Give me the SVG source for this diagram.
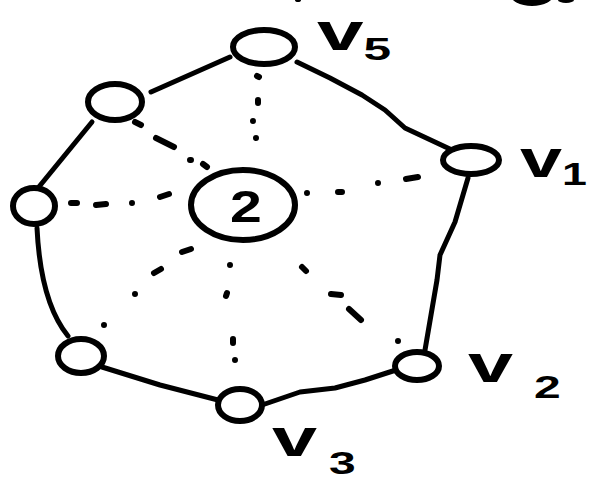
<svg xmlns="http://www.w3.org/2000/svg" width="592" height="481" viewBox="0 0 592 481">
<style>
.node{fill:#fff;stroke:#000;stroke-width:6}
.edge{fill:none;stroke:#000;stroke-width:5;stroke-linecap:round;stroke-linejoin:round}
.dot{fill:none;stroke:#000;stroke-width:6;stroke-linecap:round}
.lbl{font-family:"Liberation Sans",Arial,sans-serif;font-weight:bold;font-size:54px;fill:#000}
.sub{font-size:32px}
.cnum{font-family:"Liberation Sans",Arial,sans-serif;font-weight:bold;font-size:44px;fill:#000}
</style>
<rect width="592" height="481" fill="#fff"/>
<g id="scraps">
<ellipse cx="532" cy="-6" rx="22" ry="12" fill="#000"/>
<ellipse cx="566" cy="0" rx="8" ry="3" fill="#000"/>
<ellipse cx="298" cy="0" rx="3" ry="2" fill="#000"/>
</g>
<g id="connectors">
<path class="edge" d="M297,62 L330,78 L362,95 L385,110 L405,128 L452,150"/>
<path class="edge" d="M468,178 L455,222 L440,255 L437,280 L425,350"/>
<path class="edge" d="M396,370 L365,380 L335,388 L300,392 L262,405"/>
<path class="edge" d="M218,400 L160,385 L102,367"/>
<path class="edge" d="M68,336 C55,320 40,290 37,228"/>
<path class="edge" d="M38,188 L92,122"/>
<path class="edge" d="M151,92 L230,57"/>
<path class="dot" d="M257,76 L259,77 M258,100 L258,103 M253,121 L253,121 M256,138 L256,138"/>
<path class="dot" d="M307,193 L307,193 M338,192 L342,192 M378,183 L378,183 M406,179 L418,177"/>
<path class="dot" d="M302,267 L306,271 M331,294 L341,295 M349,309 L361,320 M398,341 L398,341"/>
<path class="dot" d="M230,265 L230,265 M227,293 L226,296 M233,339 L233,343 M235,360 L235,360"/>
<path class="dot" d="M182,252 L191,249 M154,273 L161,269 M135,294 L135,294 M104,325 L104,325"/>
<path class="dot" d="M71,203 L77,203 M96,205 L106,204 M132,203 L132,203 M160,197 L169,194"/>
<path class="dot" d="M135,122 L141,125 M156,138 L174,147 M190,160 L191,160 M203,164 L207,167"/>
</g>
<g id="center"><ellipse class="node" cx="243" cy="205" rx="52" ry="35"/><text class="cnum" transform="translate(246,222) scale(1.3,1)" text-anchor="middle">2</text></g>
<g id="v5"><ellipse class="node" cx="264" cy="47" rx="31" ry="17"/><text class="lbl" font-size="50" transform="translate(317,50) scale(1.55,1)"><tspan>v</tspan><tspan class="sub" dy="10" font-size="30">5</tspan></text></g>
<g id="v1"><ellipse class="node" cx="471" cy="160" rx="28" ry="14"/><text class="lbl" transform="translate(520,177) scale(1.4,1)"><tspan>v</tspan><tspan class="sub" dy="8" font-size="22">1</tspan></text></g>
<g id="v2"><ellipse class="node" cx="417" cy="366" rx="22" ry="14"/><text class="lbl" transform="translate(468,382) scale(1.5,1)"><tspan>v</tspan><tspan class="sub" dx="14" dy="16">2</tspan></text></g>
<g id="v3"><ellipse class="node" cx="240" cy="405" rx="22" ry="16"/><text class="lbl" transform="translate(272,456) scale(1.5,1)"><tspan>v</tspan><tspan class="sub" dx="8" dy="18" font-size="28">3</tspan></text></g>
<g id="v4"><ellipse class="node" cx="81" cy="356" rx="23" ry="17"/></g>
<g id="v6"><ellipse class="node" cx="34" cy="206" rx="21" ry="18"/></g>
<g id="v7"><ellipse class="node" cx="115" cy="102" rx="27" ry="18"/></g>
</svg>
